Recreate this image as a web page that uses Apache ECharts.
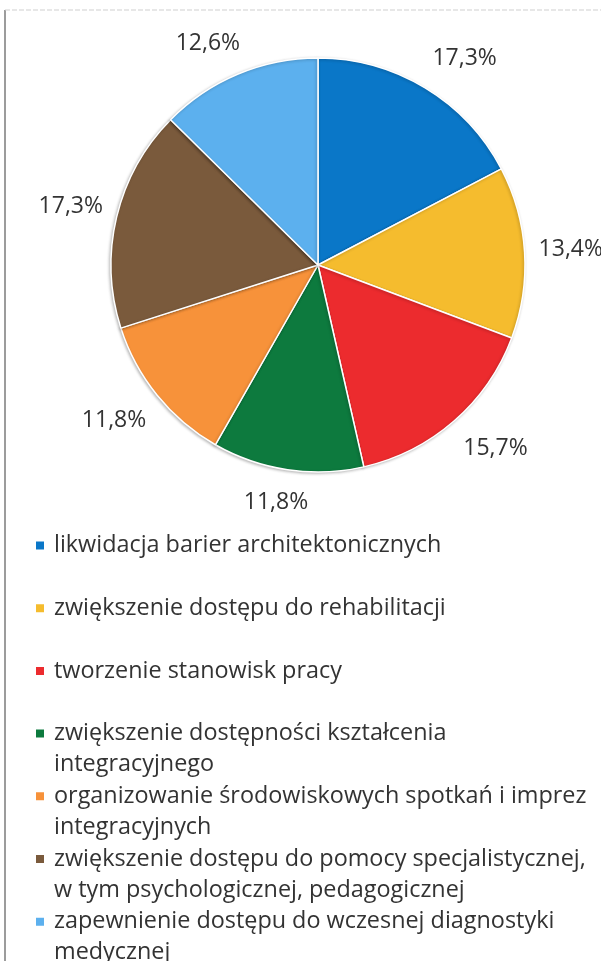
<!DOCTYPE html>
<html>
<head>
<meta charset="utf-8">
<style>
  html, body { margin: 0; padding: 0; background: #fff; }
  #chart { width: 601px; height: 961px; }
</style>
<script src="https://cdn.jsdelivr.net/npm/echarts@6/dist/echarts.min.js"></script>
</head>
<body>
<div id="chart"></div>
<script>
// Shares of planned activities (percent), clockwise from 12 o'clock
const categories = [
  'likwidacja barier architektonicznych',
  'zwiększenie dostępu do rehabilitacji',
  'tworzenie stanowisk pracy',
  'zwiększenie dostępności kształcenia integracyjnego',
  'organizowanie środowiskowych spotkań i imprez integracyjnych',
  'zwiększenie dostępu do pomocy specjalistycznej, w tym psychologicznej, pedagogicznej',
  'zapewnienie dostępu do wczesnej diagnostyki medycznej'
];
const shares = [17.3, 13.4, 15.7, 11.8, 11.8, 17.3, 12.6];
const sliceColors = ['#0a77c8', '#f5bc2e', '#ec2b2e', '#0d7a3e', '#f7923a', '#7a5a3c', '#5cb0ee'];
// Legend entries as wrapped in the key below the pie
const legendLines = [
  ['likwidacja barier architektonicznych'],
  ['zwiększenie dostępu do rehabilitacji'],
  ['tworzenie stanowisk pracy'],
  ['zwiększenie dostępności kształcenia', 'integracyjnego'],
  ['organizowanie środowiskowych spotkań i imprez', 'integracyjnych'],
  ['zwiększenie dostępu do pomocy specjalistycznej,', 'w tym psychologicznej, pedagogicznej'],
  ['zapewnienie dostępu do wczesnej diagnostyki', 'medycznej']
];

const FONT = '"Open Sans"';
const TEXT_COLOR = '#333333';
const PIE_CENTER = [318, 265];
const PIE_RADIUS = 207;
const LABEL_GAP_X = 14;
const LABEL_GAP_Y = 21;

const total = shares.reduce((a, b) => a + b, 0);
// Mid-angle of every slice (radians, counter-clockwise from 3 o'clock)
const midAngles = [];
shares.reduce((acc, v) => {
  midAngles.push(Math.PI / 2 - 2 * Math.PI * (acc + v / 2) / total);
  return acc + v;
}, 0);

const clamp1 = t => Math.max(-1, Math.min(1, t));

const pieData = categories.map((name, i) => ({
  name: name,
  value: shares[i],
  itemStyle: { color: sliceColors[i] }
}));

const chart = echarts.init(document.getElementById('chart'), null, { renderer: 'canvas' });

chart.setOption({
  backgroundColor: '#ffffff',
  animation: false,
  graphic: [
    {
      type: 'line',
      shape: { x1: 5, y1: 10, x2: 5, y2: 961 },
      style: { stroke: '#9c9c9c', lineWidth: 2 },
      silent: true
    },
    {
      type: 'line',
      shape: { x1: 5, y1: 10, x2: 601, y2: 10 },
      style: { stroke: '#cfcfcf', lineWidth: 1, lineDash: [5, 2] },
      silent: true
    }
  ],
  legend: {
    orient: 'vertical',
    left: 34,
    top: 499,
    height: 2000,
    padding: 0,
    itemWidth: 10,
    itemHeight: 10,
    itemGap: -30.3,
    icon: 'rect',
    selectedMode: false,
    data: categories,
    formatter: function (name) {
      const lines = legendLines[categories.indexOf(name)];
      return '\n' + lines[0] + '\n' + (lines[1] || ' ');
    },
    textStyle: {
      fontFamily: FONT,
      fontSize: 23.4,
      lineHeight: 31,
      color: TEXT_COLOR,
      padding: [0, 0, 0, 4]
    }
  },
  series: [
    {
      type: 'pie',
      center: PIE_CENTER,
      radius: PIE_RADIUS,
      startAngle: 90,
      clockwise: true,
      avoidLabelOverlap: false,
      emphasis: { disabled: true },
      itemStyle: {
        borderColor: '#ffffff',
        borderWidth: 1.5,
        shadowBlur: 3,
        shadowColor: 'rgba(0,0,0,0.25)',
        shadowOffsetX: -1,
        shadowOffsetY: 1
      },
      label: {
        show: true,
        position: 'outside',
        fontFamily: FONT,
        fontSize: 23,
        color: TEXT_COLOR,
        formatter: function (p) {
          return p.value.toFixed(1).replace('.', ',') + '%';
        }
      },
      labelLine: { show: false },
      // Keep each percentage just outside the rim, its box nudged away from the pie
      labelLayout: function (params) {
        const a = midAngles[params.dataIndex];
        const ux = Math.cos(a);
        const uy = -Math.sin(a);
        const w = params.labelRect.width;
        const h = params.labelRect.height;
        return {
          x: PIE_CENTER[0] + (PIE_RADIUS + LABEL_GAP_X) * ux + (w / 2) * clamp1(2 * ux),
          y: PIE_CENTER[1] + (PIE_RADIUS + LABEL_GAP_Y) * uy + (h / 2) * clamp1(2 * uy),
          align: 'center',
          verticalAlign: 'middle'
        };
      },
      data: pieData
    }
  ]
});
</script>
</body>
</html>
